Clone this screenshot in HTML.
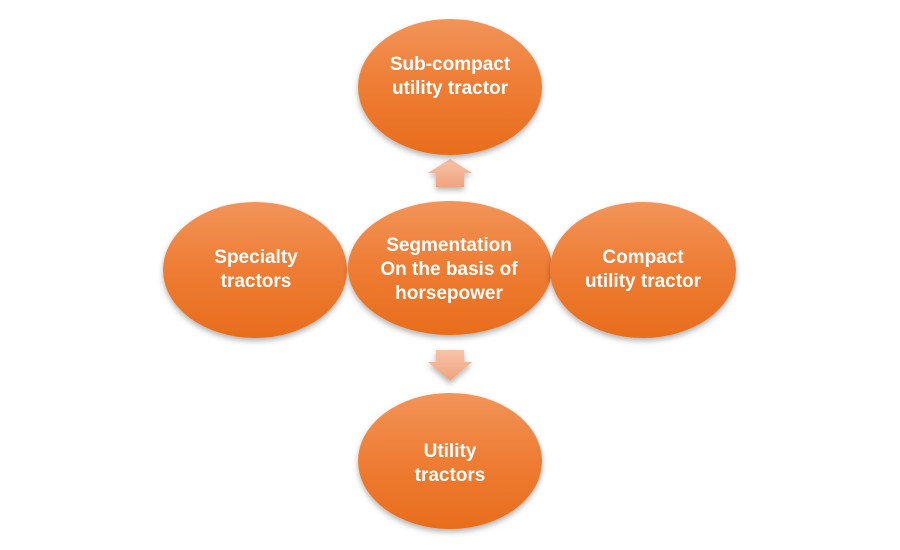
<!DOCTYPE html>
<html><head><style>
body{margin:0;background:#fff;}
svg text{font-family:"Liberation Sans",sans-serif;font-weight:bold;font-size:19px;fill:#fff;text-anchor:middle;}
</style></head><body>
<svg width="900" height="545" viewBox="0 0 900 545">
<defs>
<linearGradient id="g" x1="0" y1="0" x2="0" y2="1">
<stop offset="0" stop-color="#f29459"/><stop offset="0.5" stop-color="#ee7c33"/><stop offset="1" stop-color="#e86d1c"/>
</linearGradient>
<linearGradient id="a" x1="0" y1="0" x2="0" y2="1">
<stop offset="0" stop-color="#f7c3a8"/><stop offset="1" stop-color="#f0a27e"/>
</linearGradient>
<filter id="s" x="-20%" y="-20%" width="140%" height="150%">
<feDropShadow dx="0" dy="3" stdDeviation="3" flood-color="#000" flood-opacity="0.3"/>
</filter>
</defs>
<polygon points="450,159 472,173 464,173 464,187 436,187 436,173 428,173" fill="url(#a)" filter="url(#s)"/>
<polygon points="436,350 464,350 464,362 472,362 450,381 428,362 436,362" fill="url(#a)" filter="url(#s)"/>
<ellipse cx="450" cy="87" rx="92" ry="68" fill="url(#g)" filter="url(#s)"/>
<ellipse cx="255" cy="270" rx="92" ry="68" fill="url(#g)" filter="url(#s)"/>
<ellipse cx="450" cy="268" rx="102" ry="67" fill="url(#g)" filter="url(#s)"/>
<ellipse cx="643" cy="270" rx="93" ry="68" fill="url(#g)" filter="url(#s)"/>
<ellipse cx="450" cy="461" rx="92" ry="68" fill="url(#g)" filter="url(#s)"/>
<text x="450" y="70">Sub-compact</text><text x="450" y="94">utility tractor</text>
<text x="256" y="263">Specialty</text><text x="256" y="287">tractors</text>
<text x="449" y="251">Segmentation</text><text x="449" y="275">On the basis of</text><text x="449" y="299">horsepower</text>
<text x="643" y="263">Compact</text><text x="643" y="287">utility tractor</text>
<text x="450" y="457">Utility</text><text x="450" y="481">tractors</text>
</svg>
</body></html>
